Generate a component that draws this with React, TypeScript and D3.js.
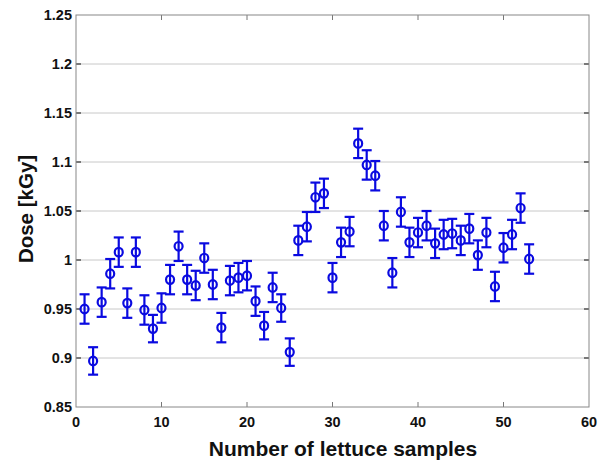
import React from "react";
import * as d3 from "d3";

// lettuce sample number, measured dose (kGy) and error bar half-width
const samples = d3.range(1, 54);
const dose = [
  0.95, 0.897, 0.957, 0.986, 1.008, 0.956, 1.008, 0.949, 0.93, 0.951,
  0.98, 1.014, 0.98, 0.974, 1.002, 0.975, 0.931, 0.979, 0.982, 0.984,
  0.958, 0.933, 0.972, 0.951, 0.906, 1.02, 1.034, 1.064, 1.068, 0.982,
  1.018, 1.029, 1.119, 1.097, 1.086, 1.035, 0.987, 1.049, 1.018, 1.028,
  1.035, 1.017, 1.026, 1.027, 1.02, 1.032, 1.005, 1.028, 0.973, 1.0125,
  1.026, 1.053, 1.001,
];
const err = [
  0.015, 0.014, 0.015, 0.015, 0.015, 0.015, 0.015, 0.015, 0.014, 0.015,
  0.015, 0.015, 0.015, 0.015, 0.015, 0.015, 0.015, 0.015, 0.015, 0.015,
  0.015, 0.014, 0.015, 0.014, 0.014, 0.015, 0.015, 0.015, 0.015, 0.015,
  0.015, 0.015, 0.015, 0.015, 0.015, 0.015, 0.015, 0.015, 0.015, 0.015,
  0.015, 0.015, 0.015, 0.015, 0.015, 0.015, 0.015, 0.015, 0.015, 0.015,
  0.015, 0.015, 0.015,
];
const xTicks = [0, 10, 20, 30, 40, 50, 60];
const yTicks = [0.85, 0.9, 0.95, 1, 1.05, 1.1, 1.15, 1.2, 1.25];

const W = 609;
const H = 463;
const margin = { top: 15, right: 20, bottom: 56, left: 76 };
const font = "'Liberation Sans', Arial, Helvetica, sans-serif";
const blue = "#0a0ae0";

export default function App() {
  const x = d3.scaleLinear().domain([0, 60]).range([margin.left, W - margin.right]);
  const y = d3.scaleLinear().domain([0.85, 1.25]).range([H - margin.bottom, margin.top]);
  const data = samples.map((s, i) => ({ s, d: dose[i], e: err[i] }));
  const x0 = x.range()[0], x1 = x.range()[1];
  const y0 = y.range()[0], y1 = y.range()[1];

  return (
    <svg width={W} height={H} style={{ position: "absolute", left: 0, top: 0, background: "#fff" }}>
      {/* grid */}
      {yTicks.slice(1, -1).map((t) => (
        <line key={"g" + t} x1={x0} x2={x1} y1={y(t)} y2={y(t)} stroke="#c8c8c8" strokeWidth={1} />
      ))}
      {/* ticks inside box */}
      {xTicks.slice(1, -1).map((t) => (
        <g key={"xt" + t} stroke="#777" strokeWidth={1}>
          <line x1={x(t)} x2={x(t)} y1={y0} y2={y0 - 5} />
          <line x1={x(t)} x2={x(t)} y1={y1} y2={y1 + 5} />
        </g>
      ))}
      {yTicks.slice(1, -1).map((t) => (
        <g key={"yt" + t} stroke="#555" strokeWidth={1.5}>
          <line x1={x0} x2={x0 + 5} y1={y(t)} y2={y(t)} />
          <line x1={x1} x2={x1 - 5} y1={y(t)} y2={y(t)} />
        </g>
      ))}
      <rect x={x0} y={y1} width={x1 - x0} height={y0 - y1} fill="none" stroke="#888" strokeWidth={1} />

      {/* error bars and markers */}
      {data.map((p) => (
        <g key={p.s} stroke={blue} strokeWidth={2.2} fill="none">
          <line x1={x(p.s)} x2={x(p.s)} y1={y(p.d - p.e)} y2={y(p.d + p.e)} />
          <line x1={x(p.s) - 5} x2={x(p.s) + 5} y1={y(p.d + p.e)} y2={y(p.d + p.e)} />
          <line x1={x(p.s) - 5} x2={x(p.s) + 5} y1={y(p.d - p.e)} y2={y(p.d - p.e)} />
          <ellipse cx={x(p.s)} cy={y(p.d)} rx={4} ry={4.3} />
        </g>
      ))}

      {/* tick labels */}
      {xTicks.map((t) => (
        <text key={"xl" + t} x={x(t)} y={y0 + 20} textAnchor="middle" fontFamily={font}
          fontWeight="bold" fontSize={14.5} fill="#111">{t}</text>
      ))}
      {yTicks.map((t) => (
        <text key={"yl" + t} x={x0 - 4} y={y(t) + 5} textAnchor="end" fontFamily={font}
          fontWeight="bold" fontSize={14.5} fill="#111">{d3.format("")(t)}</text>
      ))}

      <text x={343} y={456} textAnchor="middle" fontFamily={font}
        fontWeight="bold" fontSize={21} fill="#111">Number of lettuce samples</text>
      <text transform={`translate(33,209) rotate(-90)`} textAnchor="middle"
        fontFamily={font} fontWeight="bold" fontSize={20.5} fill="#111">Dose [kGy]</text>
    </svg>
  );
}
